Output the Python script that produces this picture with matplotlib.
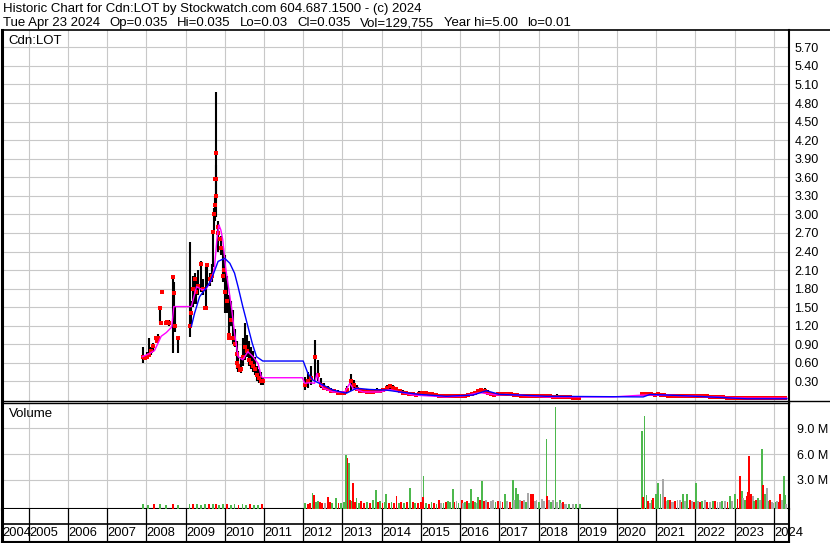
import numpy as np
import matplotlib.pyplot as plt
from matplotlib.lines import Line2D

plt.rcParams['font.family'] = ['Liberation Sans', 'DejaVu Sans']

title_1 = "Historic Chart for Cdn:LOT by Stockwatch.com 604.687.1500 - (c) 2024"
title_2 = ["Tue Apr 23 2024", "Op=0.035", "Hi=0.035", "Lo=0.03", "Cl=0.035",
           "Vol=129,755", "Year hi=5.00", "lo=0.01"]

years = list(range(2004, 2025))
price_ticks = [0.30, 0.60, 0.90, 1.20, 1.50, 1.80, 2.10, 2.40, 2.70, 3.00,
               3.30, 3.60, 3.90, 4.20, 4.50, 4.80, 5.10, 5.40, 5.70]
vol_ticks = [3.0, 6.0, 9.0]

# --- price, 2007-2010 (irregular dates, decimal years)
dates_a = [2007.91, 2007.96, 2008.01, 2008.06, 2008.11, 2008.16, 2008.24, 2008.29,
           2008.34, 2008.39, 2008.49, 2008.59, 2008.67, 2008.70, 2008.72, 2008.80,
           2009.11, 2009.13, 2009.18, 2009.23, 2009.28, 2009.33, 2009.39, 2009.44,
           2009.51, 2009.56, 2009.62, 2009.67, 2009.69, 2009.72, 2009.74, 2009.77,
           2009.79, 2009.82, 2009.84, 2009.90, 2009.95, 2010.00, 2010.05, 2010.10,
           2010.15, 2010.20, 2010.25, 2010.30, 2010.35, 2010.41, 2010.46, 2010.51,
           2010.56, 2010.61, 2010.66, 2010.71, 2010.76, 2010.81, 2010.87, 2010.92,
           2010.97]
hi_a = [0.86, 0.72, 0.78, 1.00, 0.86, 0.92, 1.02, 1.06, 1.50, 1.76, 1.27, 1.30,
        2.00, 1.90, 1.50, 1.00,
        2.56, 1.60, 2.00, 2.05, 1.95, 2.10, 2.25, 1.95, 2.15, 2.20, 2.05, 2.20,
        2.75, 3.10, 3.30, 4.98, 3.80, 2.90, 2.85, 2.65, 2.45, 2.35, 2.00, 1.70,
        1.60, 1.45, 1.15, 0.95, 0.80, 0.70, 1.00, 1.25, 1.05, 0.95, 0.85, 0.80,
        0.70, 0.55, 0.50, 0.45, 0.35]
lo_a = [0.60, 0.64, 0.66, 0.69, 0.72, 0.78, 0.95, 0.98, 1.24, 1.72, 1.24, 1.20,
        0.76, 1.40, 1.10, 0.76,
        1.02, 1.22, 1.50, 1.55, 1.55, 1.70, 1.75, 1.70, 1.45, 1.85, 1.85, 1.90,
        2.15, 2.75, 2.90, 2.96, 3.25, 2.55, 2.40, 2.35, 1.90, 1.40, 1.40, 1.00,
        1.20, 0.90, 0.85, 0.50, 0.45, 0.43, 0.55, 0.65, 0.70, 0.55, 0.50, 0.45,
        0.40, 0.30, 0.28, 0.25, 0.24]
cl_a = [0.69, 0.68, 0.70, 0.72, 0.80, 0.88, 1.00, 1.00, 1.49, 1.75, 1.25, 1.25,
        1.99, 1.73, 1.20, 1.00,
        1.20, 1.40, 1.80, 1.95, 1.75, 1.85, 2.20, 1.80, 1.49, 2.18, 1.95, 2.00,
        2.72, 3.00, 3.15, 3.99, 3.57, 2.80, 2.70, 2.45, 2.00, 1.75, 1.60, 1.05,
        1.30, 1.00, 0.90, 0.60, 0.55, 0.50, 0.70, 0.85, 0.80, 0.65, 0.60, 0.55,
        0.50, 0.40, 0.35, 0.30, 0.30]
# scattered closes seen off the bars in 2008-2010
extra_dates = [2008.27, 2008.38, 2008.52, 2008.54, 2009.49, 2009.76, 2009.78,
               2009.87, 2009.99, 2010.12, 2010.32, 2010.38]
extra_close = [0.95, 1.24, 1.25, 1.26, 1.49, 3.57, 3.30, 2.60, 2.10, 1.00,
               0.75, 0.48]

# --- price, monthly Jan 2012 - Jan 2019
hi_b = [0.37, 0.45, 0.55, 0.97, 0.65, 0.35, 0.28, 0.22, 0.20, 0.18, 0.16, 0.14,
        0.14, 0.22, 0.42, 0.33, 0.25, 0.20, 0.18, 0.17, 0.18, 0.17, 0.20, 0.18,
        0.20, 0.24, 0.26, 0.25, 0.21, 0.18, 0.16, 0.14, 0.12, 0.12, 0.11, 0.14,
        0.15, 0.14, 0.12, 0.12, 0.11, 0.10, 0.10, 0.09, 0.09, 0.09, 0.10, 0.09,
        0.10, 0.10, 0.11, 0.12, 0.14, 0.17, 0.19, 0.19, 0.16, 0.13, 0.11, 0.12,
        0.13, 0.12, 0.11, 0.11, 0.10, 0.10, 0.09, 0.09, 0.09, 0.09, 0.09, 0.08,
        0.09, 0.08, 0.09, 0.08, 0.08, 0.09, 0.07, 0.07, 0.07, 0.06, 0.06, 0.06,
        0.06]
lo_b = [0.16, 0.20, 0.25, 0.30, 0.30, 0.20, 0.18, 0.15, 0.13, 0.12, 0.10, 0.09,
        0.09, 0.12, 0.15, 0.18, 0.15, 0.13, 0.12, 0.11, 0.11, 0.11, 0.12, 0.12,
        0.13, 0.15, 0.17, 0.16, 0.14, 0.12, 0.10, 0.09, 0.08, 0.07, 0.06, 0.07,
        0.09, 0.09, 0.08, 0.07, 0.06, 0.06, 0.05, 0.05, 0.05, 0.05, 0.05, 0.05,
        0.06, 0.06, 0.06, 0.07, 0.08, 0.10, 0.12, 0.11, 0.09, 0.07, 0.06, 0.07,
        0.08, 0.08, 0.07, 0.07, 0.06, 0.06, 0.06, 0.06, 0.05, 0.05, 0.05, 0.05,
        0.05, 0.05, 0.05, 0.04, 0.04, 0.04, 0.04, 0.03, 0.04, 0.03, 0.03, 0.03,
        0.03]
cl_b = [0.25, 0.30, 0.35, 0.70, 0.40, 0.25, 0.20, 0.18, 0.15, 0.14, 0.12, 0.11,
        0.12, 0.16, 0.30, 0.25, 0.18, 0.15, 0.14, 0.13, 0.13, 0.13, 0.15, 0.14,
        0.16, 0.20, 0.22, 0.20, 0.17, 0.14, 0.12, 0.11, 0.10, 0.09, 0.08, 0.10,
        0.12, 0.11, 0.10, 0.09, 0.08, 0.07, 0.07, 0.06, 0.06, 0.06, 0.07, 0.06,
        0.07, 0.07, 0.08, 0.09, 0.11, 0.14, 0.16, 0.15, 0.12, 0.10, 0.08, 0.09,
        0.10, 0.10, 0.09, 0.09, 0.08, 0.08, 0.07, 0.07, 0.07, 0.07, 0.06, 0.06,
        0.06, 0.06, 0.06, 0.06, 0.05, 0.05, 0.05, 0.05, 0.05, 0.05, 0.04, 0.04,
        0.04]

# --- price, monthly Aug 2020 - Apr 2024
hi_c = [0.12, 0.13, 0.12, 0.11, 0.11,
        0.12, 0.11, 0.10, 0.09, 0.09, 0.09, 0.08, 0.09, 0.08, 0.08, 0.08, 0.08,
        0.08, 0.08, 0.08, 0.09, 0.08, 0.07, 0.07, 0.07, 0.07, 0.06, 0.06, 0.06,
        0.06, 0.06, 0.05, 0.05, 0.05, 0.05, 0.05, 0.04, 0.04, 0.04, 0.04, 0.04,
        0.04, 0.04, 0.04, 0.035]
lo_c = [0.06, 0.07, 0.07, 0.07, 0.06,
        0.06, 0.06, 0.06, 0.05, 0.05, 0.05, 0.05, 0.05, 0.05, 0.05, 0.04, 0.04,
        0.05, 0.05, 0.04, 0.05, 0.04, 0.04, 0.04, 0.04, 0.03, 0.03, 0.03, 0.03,
        0.03, 0.03, 0.03, 0.03, 0.02, 0.02, 0.02, 0.02, 0.02, 0.02, 0.01, 0.02,
        0.02, 0.02, 0.02, 0.03]
cl_c = [0.09, 0.10, 0.09, 0.09, 0.08,
        0.09, 0.08, 0.08, 0.07, 0.07, 0.07, 0.06, 0.06, 0.06, 0.06, 0.06, 0.06,
        0.06, 0.06, 0.06, 0.06, 0.05, 0.05, 0.05, 0.05, 0.05, 0.04, 0.04, 0.04,
        0.04, 0.04, 0.04, 0.04, 0.03, 0.03, 0.03, 0.03, 0.03, 0.03, 0.03, 0.03,
        0.03, 0.03, 0.03, 0.035]

# --- moving averages
ma_short_dates = [2007.90, 2008.08, 2008.21, 2008.30, 2008.38, 2008.51, 2008.65, 2008.70,
                  2009.15, 2009.28, 2009.44, 2009.53, 2009.66, 2009.74, 2009.80, 2009.85,
                  2009.90, 2009.95, 2010.02, 2010.08, 2010.17, 2010.25, 2010.34, 2010.46,
                  2010.59, 2010.72, 2010.85, 2010.93, 2010.97, 2011.98, 2012.04, 2012.17,
                  2012.29, 2012.35, 2012.40, 2012.51, 2012.76, 2013.06, 2013.19, 2013.27,
                  2013.53, 2013.95, 2014.21, 2014.46, 2014.80, 2015.65, 2016.12, 2016.50,
                  2016.93, 2017.18, 2018.20, 2019.90, 2020.67, 2021.18, 2022.45, 2023.31,
                  2024.33]
ma_short = [0.70, 0.75, 0.80, 0.92, 1.03, 1.09, 1.18, 1.51,
            1.51, 1.83, 1.78, 1.80, 1.94, 2.15, 2.59, 2.83,
            2.75, 2.59, 2.15, 1.89, 1.51, 1.08, 0.70, 0.65,
            0.78, 0.70, 0.59, 0.38, 0.36, 0.36, 0.27, 0.28,
            0.27, 0.43, 0.30, 0.19, 0.13, 0.13, 0.27, 0.19,
            0.13, 0.13, 0.17, 0.13, 0.08, 0.05, 0.07, 0.12,
            0.08, 0.09, 0.05, 0.05, 0.08, 0.08, 0.05, 0.03,
            0.03]
ma_long_dates = [2009.15, 2009.23, 2009.36, 2009.49, 2009.61, 2009.72, 2009.83, 2010.00,
                 2010.13, 2010.25, 2010.34, 2010.46, 2010.59, 2010.70, 2010.81, 2010.97,
                 2012.00, 2012.12, 2012.25, 2012.51, 2012.76, 2013.10, 2013.36, 2013.70,
                 2014.12, 2014.46, 2014.97, 2015.65, 2016.33, 2016.67, 2017.01, 2017.52,
                 2018.20, 2020.67, 2020.84, 2021.27, 2022.03, 2023.31, 2024.33]
ma_long = [1.19, 1.40, 1.67, 1.78, 1.89, 2.05, 2.24, 2.29,
           2.21, 2.05, 1.83, 1.51, 1.19, 0.92, 0.70, 0.63,
           0.63, 0.43, 0.32, 0.24, 0.16, 0.11, 0.19, 0.17,
           0.16, 0.13, 0.09, 0.06, 0.08, 0.15, 0.09, 0.08,
           0.06, 0.05, 0.09, 0.08, 0.06, 0.02, 0.02]

# --- volume (millions of shares); g = up day, r = down day, s = unchanged
vol_dates = [2007.92, 2008.05, 2008.20, 2008.35, 2008.50, 2008.68, 2008.80, 2009.10,
             2009.20, 2009.30, 2009.40, 2009.50, 2009.60, 2009.70, 2009.78, 2009.85,
             2009.95, 2010.05, 2010.15, 2010.25, 2010.35, 2010.45, 2010.55, 2010.65,
             2010.75, 2010.85, 2010.95,
             2012.05, 2012.12, 2012.18, 2012.235, 2012.276, 2012.33, 2012.37, 2012.42,
             2012.48, 2012.55, 2012.633, 2012.68, 2012.74, 2012.83, 2012.90, 2012.97,
             2013.04, 2013.10, 2013.13, 2013.16, 2013.19, 2013.23, 2013.27, 2013.32,
             2013.36, 2013.42, 2013.48, 2013.55, 2013.62, 2013.70, 2013.78, 2013.85,
             2013.90, 2013.95, 2014.02, 2014.07, 2014.12, 2014.18, 2014.25, 2014.32,
             2014.38, 2014.44, 2014.50, 2014.57, 2014.64, 2014.72, 2014.80, 2014.86,
             2014.93, 2015.00, 2015.07, 2015.06, 2015.13, 2015.20, 2015.27, 2015.33,
             2015.40, 2015.46, 2015.52, 2015.58, 2015.64, 2015.69, 2015.75, 2015.81,
             2015.86, 2015.91, 2015.96, 2016.04, 2016.08, 2016.12, 2016.18, 2016.23,
             2016.27, 2016.33, 2016.38, 2016.42, 2016.46, 2016.50, 2016.55, 2016.60,
             2016.66, 2016.72, 2016.78, 2016.84, 2016.90, 2016.96, 2017.03, 2017.08,
             2017.14, 2017.20, 2017.27, 2017.34, 2017.38, 2017.42, 2017.48, 2017.52,
             2017.58, 2017.63, 2017.68, 2017.73, 2017.80, 2017.85, 2017.90, 2017.95,
             2018.02, 2018.08, 2018.14, 2018.20, 2018.22, 2018.27, 2018.32, 2018.36,
             2018.43, 2018.48, 2018.54, 2018.58, 2018.63, 2018.68, 2018.71, 2018.78,
             2018.88, 2018.95, 2019.05,
             2020.64, 2020.66, 2020.70, 2020.75, 2020.80, 2020.84, 2020.88, 2020.92,
             2020.99, 2021.05, 2021.11, 2021.18, 2021.22, 2021.27, 2021.31, 2021.35,
             2021.40, 2021.43, 2021.48, 2021.54, 2021.60, 2021.65, 2021.69, 2021.74,
             2021.79, 2021.86, 2021.92, 2021.97, 2022.01, 2022.06, 2022.11, 2022.17,
             2022.24, 2022.30, 2022.37, 2022.44, 2022.50, 2022.56, 2022.62, 2022.68,
             2022.75, 2022.82, 2022.88, 2022.94, 2023.01, 2023.07, 2023.14, 2023.18,
             2023.22, 2023.27, 2023.31, 2023.34, 2023.37, 2023.41, 2023.46, 2023.50,
             2023.54, 2023.60, 2023.65, 2023.70, 2023.73, 2023.77, 2023.83, 2023.87,
             2023.90, 2023.95, 2023.99, 2024.04, 2024.08, 2024.12, 2024.16, 2024.20,
             2024.26, 2024.29, 2024.31]
vol_vals = [0.15, 0.10, 0.20, 0.15, 0.10, 0.20, 0.10, 0.20,
            0.15, 0.20, 0.10, 0.15, 0.20, 0.15, 0.20, 0.10,
            0.15, 0.20, 0.10, 0.15, 0.10, 0.20, 0.10, 0.15,
            0.10, 0.10, 0.15,
            0.30, 0.20, 0.30, 1.48, 1.20, 0.40, 0.50, 0.40,
            0.30, 0.25, 0.97, 0.40, 0.30, 0.87, 0.30, 0.25,
            0.40, 5.90, 5.50, 5.00, 0.60, 0.50, 2.60, 0.40,
            0.90, 0.30, 0.50, 0.30, 0.40, 0.30, 0.70, 1.80,
            0.40, 0.50, 0.30, 0.40, 1.30, 0.30, 0.40, 0.30,
            1.10, 0.30, 0.40, 0.30, 0.40, 2.10, 0.40, 0.30,
            0.30, 0.40, 3.40, 1.00, 0.30, 0.20, 0.40, 0.30,
            0.20, 0.60, 0.30, 0.30, 0.40, 0.50, 0.40, 1.90,
            0.40, 0.50, 0.30, 0.60, 0.30, 0.40, 0.50, 0.30,
            1.90, 0.50, 0.40, 0.30, 1.00, 0.60, 2.90, 0.50,
            0.60, 0.40, 0.50, 0.60, 0.40, 0.50, 0.50, 0.40,
            1.30, 0.50, 0.40, 3.00, 0.60, 2.00, 1.30, 0.60,
            0.50, 0.60, 0.40, 1.50, 1.30, 1.30, 0.50, 0.70,
            0.40, 0.80, 0.50, 7.70, 1.10, 0.60, 0.40, 0.70,
            11.50, 0.40, 0.60, 0.30, 0.40, 0.20, 0.20, 0.20,
            0.20, 0.15, 0.20,
            8.70, 1.00, 10.40, 1.20, 0.50, 0.30, 0.60, 0.90,
            1.30, 2.60, 1.30, 3.10, 1.00, 0.50, 0.60, 0.60,
            0.40, 0.40, 0.50, 0.60, 0.60, 0.40, 1.40, 0.50,
            1.40, 0.60, 0.50, 0.40, 2.60, 0.50, 0.40, 0.50,
            0.60, 0.40, 0.40, 0.50, 0.50, 0.40, 0.40, 0.50,
            0.50, 0.40, 1.10, 0.50, 1.30, 0.80, 3.40, 1.70,
            0.90, 0.60, 1.10, 1.60, 5.80, 1.30, 1.10, 0.50,
            0.60, 0.90, 0.60, 6.60, 2.40, 1.30, 2.10, 0.50,
            0.60, 0.40, 0.30, 0.40, 0.50, 0.40, 1.40, 0.60,
            3.40, 1.20, 0.13]
vol_kind = ['g', 'g', 'r', 'g', 'g', 'r', 'g', 'g',
            'r', 'g', 'g', 'g', 'r', 'g', 'r', 'g',
            'g', 'r', 'g', 'g', 'r', 'g', 'g', 'r',
            'g', 'g', 'r',
            'g', 'r', 'r', 'g', 'r', 'g', 'g', 'r',
            'r', 's', 'r', 'r', 'g', 'g', 'r', 'g',
            'g', 'g', 'r', 'g', 'r', 'g', 'r', 'r',
            'g', 'g', 'r', 'r', 'g', 'r', 'g', 'g',
            'r', 'g', 'r', 'g', 'g', 'r', 'g', 'r',
            'r', 'g', 'r', 'g', 'r', 'g', 'r', 'g',
            'r', 'r', 'g', 'r', 'g', 'r', 'g', 'r',
            'g', 'r', 's', 'g', 'r', 'g', 'g', 'g',
            'r', 's', 'g', 'r', 's', 'g', 'r', 'g',
            'g', 'r', 'g', 's', 'g', 'r', 'g', 'r',
            's', 'r', 's', 's', 'g', 'r', 's', 'r',
            'g', 's', 'r', 'g', 's', 'g', 'g', 's',
            'r', 's', 'g', 's', 'r', 'r', 's', 's',
            'g', 's', 's', 'g', 'r', 's', 'g', 's',
            'g', 's', 'g', 's', 'r', 's', 's', 'g',
            's', 'g', 'g',
            'g', 'r', 'g', 'g', 'r', 's', 'g', 'r',
            'g', 'g', 'g', 's', 'r', 's', 'g', 'r',
            's', 's', 'r', 's', 's', 'r', 'g', 's',
            'g', 'r', 's', 'r', 'g', 's', 'r', 'g',
            's', 'r', 's', 'g', 'r', 's', 's', 'g',
            's', 'r', 'g', 's', 'g', 'r', 'r', 'g',
            's', 'g', 'r', 'r', 'r', 'r', 's', 'g',
            'r', 'g', 's', 'g', 'r', 'g', 's', 'g',
            'r', 's', 's', 'g', 's', 'r', 'r', 's',
            'g', 'g', 's']

kind_colors = {'g': '#4DB84D', 'r': '#FF0000', 's': '#A8A8A8'}
grid_color = '#C8C8C8'

W, H = 830, 543
fig = plt.figure(figsize=(W / 100, H / 100), dpi=100)
fig.patch.set_facecolor('white')

def box(x0, y0, x1, y1):
    # pixel box (top-left origin) -> figure fraction rect
    return [x0 / W, 1 - y1 / H, (x1 - x0) / W, (y1 - y0) / H]

xmin, xmax = 2004.309, 2024.385
year_lines = years[1:]

# ---------------- price panel
ax = fig.add_axes(box(1.5, 30, 789, 400.5))
ax.set_xlim(xmin, xmax)
ax.set_ylim(-0.008, 5.98)

for seg_dates, hi, lo, cl in [
        (dates_a, hi_a, lo_a, cl_a),
        (2012 + (np.arange(len(hi_b)) + 0.5) / 12, hi_b, lo_b, cl_b),
        (2020 + (7 + np.arange(len(hi_c)) + 0.5) / 12, hi_c, lo_c, cl_c)]:
    ax.vlines(seg_dates, lo, hi, color='black', lw=1.5, zorder=3)
    ax.plot(seg_dates, cl, ls='none', marker='s', ms=2.3, mfc='red', mec='red',
            mew=0, zorder=4)
ax.plot(extra_dates, extra_close, ls='none', marker='s', ms=2.3, mfc='red',
        mec='red', mew=0, zorder=4)

ax.plot(ma_short_dates, ma_short, color='#FF00FF', lw=1.0, zorder=5)
ax.plot(ma_long_dates, ma_long, color='#0000FF', lw=1.0, zorder=6)

ax.set_xticks(year_lines)
ax.set_yticks(price_ticks)
ax.set_yticklabels(['%.2f' % v for v in price_ticks])
ax.yaxis.tick_right()
ax.tick_params(axis='y', length=0, pad=4, labelsize=9)
ax.tick_params(axis='x', length=0, labelbottom=False)
ax.grid(True, color=grid_color, lw=0.8, zorder=0)
ax.set_axisbelow(True)
for side, lw in [('left', 2.2), ('right', 1.5), ('top', 1.2), ('bottom', 1.0)]:
    ax.spines[side].set_linewidth(lw)
    ax.spines[side].set_color('black')
ax.text(7 / 787, 1 - 11 / 370, 'Cdn:LOT', transform=ax.transAxes,
        fontsize=9.5, va='center', ha='left')

# ---------------- volume panel
vbase = -0.4
ax2 = fig.add_axes(box(1.5, 402.5, 789, 509))
ax2.set_xlim(xmin, xmax)
ax2.set_ylim(vbase, 12.0)
ax2.bar(vol_dates, np.array(vol_vals) - vbase, bottom=vbase, width=0.045,
        color=[kind_colors[k] for k in vol_kind], lw=0, zorder=3)
ax2.set_xticks(year_lines)
ax2.set_yticks(vol_ticks)
ax2.set_yticklabels(['%.1f M' % v for v in vol_ticks])
ax2.yaxis.tick_right()
ax2.tick_params(axis='y', length=0, pad=6, labelsize=9)
ax2.tick_params(axis='x', length=0, labelbottom=False)
ax2.grid(True, color=grid_color, lw=0.8, zorder=0)
ax2.set_axisbelow(True)
for side, lw in [('left', 2.2), ('right', 1.5), ('top', 1.0), ('bottom', 1.5)]:
    ax2.spines[side].set_linewidth(lw)
    ax2.spines[side].set_color('black')
ax2.text(7 / 787, 1 - 11 / 106, 'Volume', transform=ax2.transAxes,
         fontsize=9.5, va='center', ha='left')

# ---------------- year strip
ax3 = fig.add_axes(box(1.5, 509, 789, 541.5))
ax3.set_xlim(xmin, xmax)
ax3.set_ylim(0, 1)
ax3.set_xticks([])
ax3.set_yticks([])
ax3.spines['top'].set_visible(False)
for side, lw in [('left', 2.2), ('right', 1.5), ('bottom', 1.5)]:
    ax3.spines[side].set_linewidth(lw)
for yr in year_lines:
    ax3.axvline(yr, color='black', lw=0.9)
ax3.axhline(0.53, color='black', lw=1.2)
for yr in years:
    ax3.text(max(yr, xmin) + 0.012, 0.25, str(yr), fontsize=9.3, va='center',
             ha='left', clip_on=False)

# ---------------- header and outer lines
fig.text(3 / W, 1 - 9 / H, title_1, fontsize=9.5, va='center', ha='left')

# line 2: pieces laid side by side, gaps sized so the line ends near x=571
renderer = fig.canvas.get_renderer()
pieces = [fig.text(0, 1 - 23 / H, p, fontsize=9.5, va='center', ha='left')
          for p in title_2]
widths = [t.get_window_extent(renderer).width for t in pieces]
gap = (568 - sum(widths)) / (len(pieces) - 1)
x = 3.0
for t, w in zip(pieces, widths):
    t.set_x(x / W)
    x += w + gap

fig.add_artist(Line2D([789 / W, 1], [1 - 400.5 / H] * 2, color='black', lw=1.0))
fig.add_artist(Line2D([789 / W, 1], [1 - 30 / H] * 2, color='black', lw=1.2))

fig.savefig('out.png', dpi=100, facecolor='white')
